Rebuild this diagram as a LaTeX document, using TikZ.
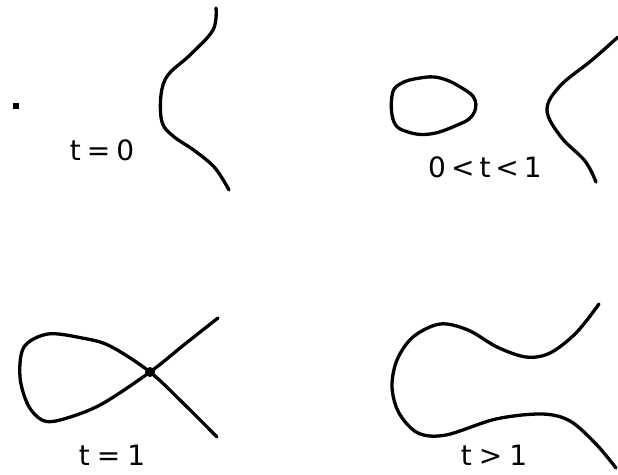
\documentclass[tikz,border=0pt]{standalone}
\usepackage{fontspec}
\setmainfont{DejaVu Sans}
\begin{document}
\begin{tikzpicture}[x=1pt,y=-1pt,
  curve/.style={line width=3.3pt,line cap=round,line join=round},
  lbl/.style={font=\fontsize{28}{28}\selectfont,inner sep=0pt}]
\useasboundingbox (0,0) rectangle (618,474);
% panel t=0
\fill (13,103) rectangle (19,109);
\draw[curve] plot[smooth,tension=0.6] coordinates {(216,8) (213,30) (190,55) (168,75) (161,95) (162,122) (173,136) (195,151) (215,168) (229,190)};
\node[lbl] (l0) at (102,150) {t\hspace{6pt}=\hspace{6pt}0};
% panel 0<t<1
\draw[curve] plot[smooth cycle,tension=0.7] coordinates {(392,96) (400,84) (420,78) (440,78) (462,88) (475,100) (472,116) (455,126) (430,134) (408,132) (394,122)};
\draw[curve] plot[smooth,tension=0.6] coordinates {(618,37) (592,60) (560,86) (547,110) (561,137) (585,161) (596,182)};
\node[lbl] (l1) at (485,167) {0\hspace{5pt}<\hspace{5pt}t\hspace{5pt}<\hspace{5pt}1};
% panel t=1
\draw[curve] plot[smooth,tension=0.55] coordinates {(218,318) (185,344) (150,372) (100,405) (60,420) (42,420) (28,405) (20,377) (24,347) (48,334) (82,338) (110,346) (150,372) (184,404) (217,437)};
\fill (150,372) circle (5);
\node[lbl] (l2) at (112,455) {t\hspace{7pt}=\hspace{7pt}1};
% panel t>1
\draw[curve] plot[smooth,tension=0.55] coordinates {(599,304) (576,333) (550,353) (526,357) (497,347) (468,330) (440,324) (413,337) (397,360) (392,387) (399,413) (418,433) (446,435) (496,419) (542,414) (570,421) (596,444) (616,468)};
\node[lbl] (l3) at (494,455) {t\hspace{7pt}>\hspace{7pt}1};
\end{tikzpicture}
\end{document}
